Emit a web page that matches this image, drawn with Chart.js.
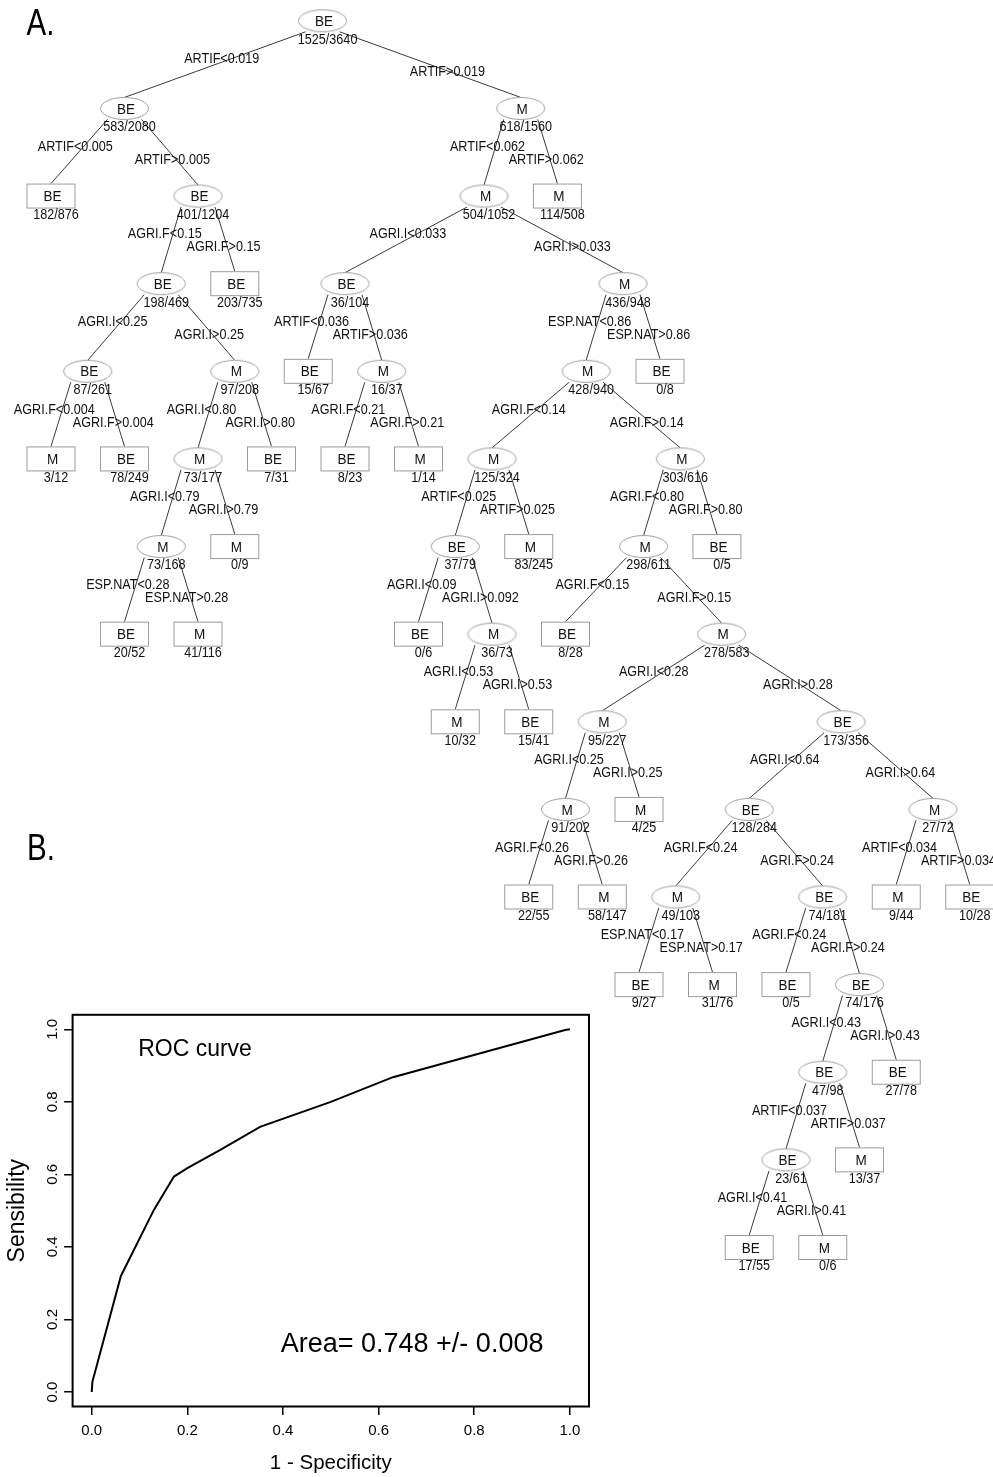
<!DOCTYPE html>
<html>
<head>
<meta charset="utf-8">
<script src="https://cdn.jsdelivr.net/npm/chart.js@4"></script>
<style>
body { margin: 0; background: #fff; }
#wrap { position: relative; width: 993px; height: 1477px; }
#tree { position: absolute; left: 0; top: 0; }
#roc { position: absolute; left: 0; top: 990px; }
</style>
</head>
<body>
<div id="wrap">
  <canvas id="tree" width="993" height="1477"></canvas>
  <canvas id="roc" width="600" height="487"></canvas>
</div>
<script>
// arbre de classification (ordre préfixe, fils gauche d'abord)
const nodeClass = ['BE','BE','BE','BE','BE','BE','M','BE','M','M','M','BE','M','M','BE','BE',
  'M','M','BE','BE','M','BE','M','M','M','M','BE','BE','M','M','BE','M','M','M','BE','M',
  'M','M','BE','M','M','BE','BE','M','BE','M','BE','BE','BE','BE','BE','BE','M','M','BE',
  'M','M','BE','BE','BE','M'];
const nodeCount = ['1525/3640','583/2080','182/876','401/1204','198/469','87/261','3/12','78/249',
  '97/208','73/177','73/168','20/52','41/116','0/9','7/31','203/735',
  '618/1560','504/1052','36/104','15/67','16/37','8/23','1/14','436/948','428/940','125/324',
  '37/79','0/6','36/73','10/32','15/41','83/245','303/616','298/611','8/28','278/583',
  '95/227','91/202','22/55','58/147','4/25','173/356','128/284','49/103','9/27','31/76',
  '74/181','0/5','74/176','47/98','23/61','17/55','0/6','13/37','27/78',
  '27/72','9/44','10/28','0/5','0/8','114/508'];
const nodeParent = [-1,0,1,1,3,4,5,5,4,8,9,10,10,9,8,3,
  0,16,17,18,18,20,20,17,23,24,25,26,26,28,28,25,24,32,33,33,
  35,36,37,37,36,35,41,42,43,43,42,46,46,48,49,50,50,49,48,
  41,55,55,32,23,16];
const nodeSplit = ['','ARTIF<0.019','ARTIF<0.005','ARTIF>0.005','AGRI.F<0.15','AGRI.I<0.25',
  'AGRI.F<0.004','AGRI.F>0.004','AGRI.I>0.25','AGRI.I<0.80','AGRI.I<0.79','ESP.NAT<0.28',
  'ESP.NAT>0.28','AGRI.I>0.79','AGRI.I>0.80','AGRI.F>0.15',
  'ARTIF>0.019','ARTIF<0.062','AGRI.I<0.033','ARTIF<0.036','ARTIF>0.036','AGRI.F<0.21',
  'AGRI.F>0.21','AGRI.I>0.033','ESP.NAT<0.86','AGRI.F<0.14','ARTIF<0.025','AGRI.I<0.09',
  'AGRI.I>0.092','AGRI.I<0.53','AGRI.I>0.53','ARTIF>0.025','AGRI.F>0.14','AGRI.F<0.80',
  'AGRI.F<0.15','AGRI.F>0.15','AGRI.I<0.28','AGRI.I<0.25','AGRI.F<0.26','AGRI.F>0.26',
  'AGRI.I>0.25','AGRI.I>0.28','AGRI.I<0.64','AGRI.F<0.24','ESP.NAT<0.17','ESP.NAT>0.17',
  'AGRI.F>0.24','AGRI.F<0.24','AGRI.F>0.24','AGRI.I<0.43','ARTIF<0.037','AGRI.I<0.41',
  'AGRI.I>0.41','ARTIF>0.037','AGRI.I>0.43','AGRI.I>0.64','ARTIF<0.034','ARTIF>0.034',
  'AGRI.F>0.80','ESP.NAT>0.86','ARTIF>0.062'];
// position horizontale des feuilles (null = noeud interne)
const leafPos = [null,null,0,null,null,null,0,2,null,null,null,2,4,5,6,5,
  null,null,null,7,null,8,10,null,null,null,null,10,null,11,13,13,null,null,14,null,
  null,null,13,15,16,null,null,null,16,18,null,20,null,null,null,19,21,22,23,
  null,23,25,18.12,16.57,13.78];

// courbe ROC
const rocFpr = [0, 0.0014, 0.061, 0.130, 0.172, 0.200, 0.268, 0.352, 0.500, 0.630, 0.990, 1.0];
const rocTpr = [0, 0.028, 0.320, 0.502, 0.594, 0.617, 0.667, 0.731, 0.800, 0.868, 0.998, 1.0];
const rocTicks = [0, 0.2, 0.4, 0.6, 0.8, 1.0];
const rocArea = 'Area= 0.748 +/- 0.008';

const FONT = '"Liberation Sans", Arial, Helvetica, sans-serif';

// --- mise en page de l'arbre
const UX = 36.75, X0 = 51;     // px par colonne
const UY = 87.62, Y0 = 20.8;   // px par niveau
const depth = nodeParent.map(() => 0);
nodeParent.forEach((p, i) => { if (p >= 0) depth[i] = depth[p] + 1; });
const children = nodeClass.map(() => []);
nodeParent.forEach((p, i) => { if (p >= 0) children[p].push(i); });
const nodeX = [];
function place(i) {
    if (leafPos[i] !== null) return nodeX[i] = leafPos[i];
    const [l, r] = children[i];
    return nodeX[i] = (place(l) + place(r)) / 2;
}
place(0);
const isLeaf = i => leafPos[i] !== null;

function makeShape(leaf) {
    const c = document.createElement('canvas');
    c.width = 51; c.height = leaf ? 27 : 25;
    const g = c.getContext('2d');
    g.fillStyle = '#fff';
    g.strokeStyle = '#9c9c9c';
    g.lineWidth = 1;
    if (leaf) {
        g.fillRect(1, 1, 49, 25);
        g.strokeRect(1.5, 1.5, 48, 24);
    } else {
        g.beginPath();
        g.ellipse(25.5, 12.5, 24, 11, 0, 0, Math.PI * 2);
        g.fill();
        g.stroke();
    }
    return c;
}
const ellImg = makeShape(false);
const rectImg = makeShape(true);

const edgeSets = [];
for (let i = 1; i < nodeClass.length; i++) {
    const p = nodeParent[i];
    const side = children[p][0] === i ? -1 : 1;
    edgeSets.push({
        data: [
            { x: nodeX[p] + side * 17 / UX, y: depth[p] + 11 / UY },
            { x: nodeX[i], y: depth[i] - (isLeaf(i) ? 12.5 : 11) / UY }
        ],
        showLine: true,
        borderColor: '#3a3a3a',
        borderWidth: 1,
        pointRadius: 0,
        order: 1,
        nodeIndex: i
    });
}

function narrowText(ctx, text, x, y, size, sx) {
    ctx.save();
    ctx.translate(x, y);
    ctx.scale(sx, 1);
    ctx.font = size + 'px ' + FONT;
    ctx.fillText(text, 0, 0);
    ctx.restore();
}

const treeText = {
    id: 'treeText',
    afterDatasetsDraw(chart) {
        const { ctx, scales: { x, y } } = chart;
        ctx.save();
        ctx.fillStyle = '#111';
        ctx.textAlign = 'center';
        ctx.textBaseline = 'middle';
        nodeClass.forEach((c, i) => {
            const px = x.getPixelForValue(nodeX[i]);
            const py = y.getPixelForValue(depth[i]);
            narrowText(ctx, c, px + 1.5, py + 1, 15, 0.9);
            narrowText(ctx, nodeCount[i], px + 5, py + 19, 14, 0.9);
        });
        edgeSets.forEach(ds => {
            const i = ds.nodeIndex;
            const p = nodeParent[i];
            const left = children[p][0] === i;
            const sx = x.getPixelForValue(ds.data[0].x), sy = y.getPixelForValue(ds.data[0].y);
            const ex = x.getPixelForValue(ds.data[1].x), ey = y.getPixelForValue(ds.data[1].y);
            const ly = y.getPixelForValue(depth[p]) + (left ? 38.5 : 51.5);
            const t = (ly - sy) / (ey - sy);
            const lx = sx + t * (ex - sx) + (left ? -8 : -4);
            narrowText(ctx, nodeSplit[i], lx, ly, 14, 0.9);
        });
        ctx.textAlign = 'left';
        ctx.textBaseline = 'alphabetic';
        ctx.fillStyle = '#000';
        narrowText(ctx, 'A.', 26.5, 35, 36, 0.82);
        narrowText(ctx, 'B.', 27, 860, 36, 0.82);
        ctx.restore();
    }
};

new Chart(document.getElementById('tree'), {
    type: 'scatter',
    data: {
        datasets: [{
            data: nodeClass.map((c, i) => ({ x: nodeX[i], y: depth[i] })),
            pointStyle: ctx => isLeaf(ctx.dataIndex) ? rectImg : ellImg,
            pointRadius: 12,
            order: 0
        }].concat(edgeSets)
    },
    options: {
        responsive: false,
        animation: false,
        events: [],
        layout: { padding: 0, autoPadding: false },
        plugins: { legend: { display: false }, tooltip: { enabled: false } },
        scales: {
            x: { display: false, min: -X0 / UX, max: (993 - X0) / UX },
            y: { display: false, reverse: true, min: -Y0 / UY, max: (1477 - Y0) / UY }
        }
    },
    plugins: [treeText]
});

// --- courbe ROC
const rocDeco = {
    id: 'rocDeco',
    afterDraw(chart) {
        const { ctx, chartArea: a, scales: { x, y } } = chart;
        ctx.save();
        ctx.strokeStyle = '#000';
        ctx.lineWidth = 2;
        ctx.strokeRect(a.left, a.top, a.right - a.left, a.bottom - a.top);
        ctx.fillStyle = '#000';
        ctx.textAlign = 'center';
        ctx.textBaseline = 'middle';
        ctx.font = '23px ' + FONT;
        ctx.fillText('ROC curve', x.getPixelForValue(0.216), y.getPixelForValue(0.943));
        ctx.font = '27px ' + FONT;
        ctx.fillText(rocArea, x.getPixelForValue(0.670), y.getPixelForValue(0.130));
        ctx.restore();
    }
};

const axisCommon = {
    type: 'linear',
    min: -0.04,
    max: 1.04,
    afterBuildTicks: s => { s.ticks = rocTicks.map(v => ({ value: v })); },
    grid: { drawOnChartArea: false, tickLength: 8.5, color: '#000', lineWidth: 1.5 },
    border: { display: false }
};

new Chart(document.getElementById('roc'), {
    type: 'scatter',
    data: {
        datasets: [{
            data: rocFpr.map((v, i) => ({ x: v, y: rocTpr[i] })),
            showLine: true,
            borderColor: '#000',
            borderWidth: 2,
            pointRadius: 0
        }]
    },
    options: {
        responsive: false,
        animation: false,
        events: [],
        layout: { padding: { left: 0, top: 24.8, right: 11, bottom: 0 }, autoPadding: false },
        plugins: { legend: { display: false }, tooltip: { enabled: false } },
        scales: {
            x: Object.assign({}, axisCommon, {
                afterFit: s => { s.height = 70.5; },
                ticks: { callback: v => v.toFixed(1), font: { size: 15, family: FONT }, color: '#000',
                         padding: 7, maxRotation: 0, autoSkip: false },
                title: { display: true, text: '1 - Specificity', color: '#000',
                         font: { size: 20.5, family: FONT }, padding: { top: 1.7, bottom: 1.7 } }
            }),
            y: Object.assign({}, axisCommon, {
                afterFit: s => { s.width = 72.6; },
                ticks: { callback: v => v.toFixed(1), font: { size: 15, family: FONT }, color: '#000',
                         padding: 1, minRotation: 90, maxRotation: 90, crossAlign: 'center', autoSkip: false },
                title: { display: true, text: 'Sensibility', color: '#000',
                         font: { size: 23, family: FONT }, padding: { top: 3.5, bottom: 3.5 } }
            })
        }
    },
    plugins: [rocDeco]
});
</script>
</body>
</html>
